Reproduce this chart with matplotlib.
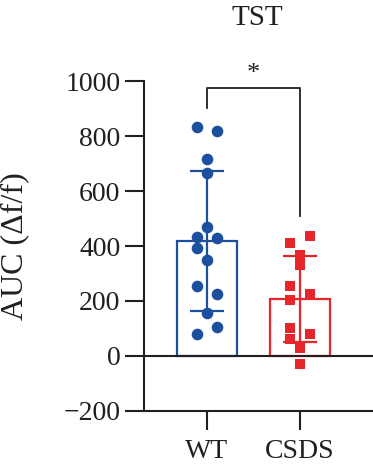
import numpy as np
import matplotlib
matplotlib.use("Agg")
import matplotlib.pyplot as plt

# data
groups = ["WT", "CSDS"]
wt_vals = [834, 819, 715, 667, 470, 434, 428, 394, 349, 255, 225, 155, 107, 79]
csds_vals = [436, 410, 367, 331, 255, 225, 204, 103, 80, 61, 28, -29]
means = [419, 208]
sds = [254, 157]
yticks = [-200, 0, 200, 400, 600, 800, 1000]

# which swarm column each point sits in (-1 left, 0 centre, 1 right)
wt_lane = [-1, 1, 0, 0, 0, -1, 1, -1, 0, -1, 1, 0, 1, -1]
csds_lane = [1, -1, 0, 0, -1, 1, -1, -1, 1, -1, 0, 0]

blue = "#1d4f9f"
red = "#e6262b"
colors = [blue, red]

plt.rcParams['font.family'] = ['Liberation Serif', 'DejaVu Serif']

fig = plt.figure(figsize=(3.73, 4.74), dpi=100)
ax = fig.add_axes([0.386, 0.133, 0.614, 0.696])

x = np.arange(len(groups))
ax.bar(x, means, width=0.65, facecolor='white', edgecolor=colors, linewidth=1.6, zorder=2)
for i in range(2):
    ax.errorbar(x[i], means[i], yerr=sds[i], color=colors[i], capsize=12,
                elinewidth=1.6, capthick=1.6, fmt='none', zorder=3)

jit = 0.108
ax.scatter(x[0] + jit * np.array(wt_lane), wt_vals, s=70, marker='o',
           color=blue, linewidths=0, zorder=4)
ax.scatter(x[1] + jit * np.array(csds_lane), csds_vals, s=60, marker='s',
           color=red, linewidths=0, zorder=4)

ax.axhline(0, color='#231f20', linewidth=1.5, zorder=3)

# significance bracket
ax.plot([0, 0, 1, 1], [902, 973, 973, 509], color='#231f20', linewidth=1.3, zorder=3)
ax.text(0.5, 985, "*", ha='center', va='bottom', fontsize=19, color='#231f20')

ax.set_xlim(-0.677, 1.785)
ax.set_ylim(-200, 1000)
ax.set_yticks(yticks)
ax.set_yticklabels(["\u2212200" if t < 0 else str(t) for t in yticks])
ax.set_xticks(x)
ax.set_xticklabels(groups)

for s in ['top', 'right']:
    ax.spines[s].set_visible(False)
for s in ['left', 'bottom']:
    ax.spines[s].set_linewidth(1.5)
    ax.spines[s].set_color('#231f20')
ax.tick_params(axis='both', length=14, width=1.5, color='#231f20',
               labelsize=20, labelcolor='#231f20', pad=3)
ax.tick_params(axis='x', pad=6)

ax.set_ylabel("AUC (\u0394f/f)", fontsize=23, color='#231f20')
ax.yaxis.set_label_coords(-0.50, 0.5)
fig.text(0.69, 0.962, "TST", ha='center', va='center', fontsize=21, color='#231f20')

fig.savefig("out.png", dpi=100)
